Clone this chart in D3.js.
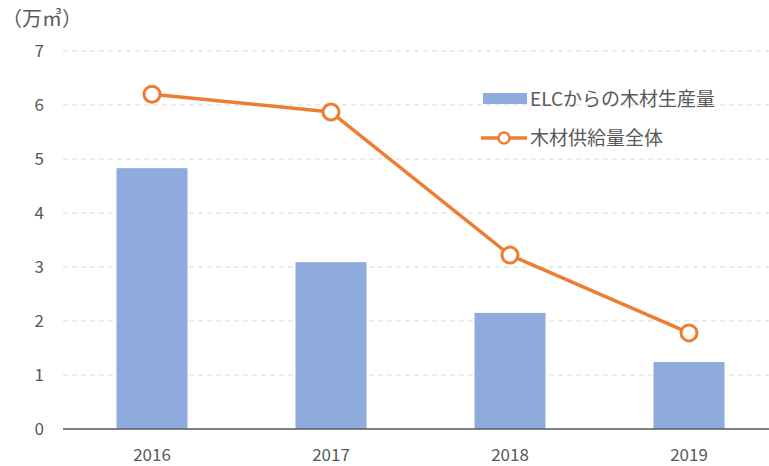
<!DOCTYPE html>
<html><head><meta charset="utf-8">
<script src="https://cdn.jsdelivr.net/npm/d3@7"></script>
<style>
body{margin:0;background:#fff;}
svg{display:block;font-family:"Noto Sans CJK JP","Noto Sans",sans-serif;}
</style></head>
<body>
<svg id="c" width="769" height="466"></svg>
<script>
const categories = ["2016","2017","2018","2019"];
const elcProduction = [4.83, 3.09, 2.15, 1.24];
const totalSupply = [6.20, 5.87, 3.22, 1.78];
const yTicks = [0,1,2,3,4,5,6,7];
const seriesNames = ["ELCからの木材生産量","木材供給量全体"];
const unitLabel = "（万㎥）";

const svg = d3.select("#c");
const xc = d3.scalePoint().domain(categories).range([152, 689]);
const y = d3.scaleLinear().domain([0,7]).range([429, 51]);

// gridlines
svg.append("g").selectAll("line").data(yTicks.filter(d=>d>0)).join("line")
  .attr("x1",63).attr("x2",769).attr("y1",d=>y(d)).attr("y2",d=>y(d))
  .attr("stroke","#d9d9d9").attr("stroke-width",1).attr("stroke-dasharray","5,4");

// y tick labels
svg.append("g").selectAll("text").data(yTicks).join("text")
  .attr("x",44).attr("y",d=>y(d)).attr("dy","0.35em").attr("text-anchor","end")
  .attr("font-size",17).attr("fill","#595959").text(d=>d);

// bars
const bw = 71;
svg.append("g").selectAll("rect").data(categories).join("rect")
  .attr("x",(d)=>xc(d)-bw/2).attr("width",bw)
  .attr("y",(d,i)=>y(elcProduction[i])).attr("height",(d,i)=>y(0)-y(elcProduction[i]))
  .attr("fill","#8FAADC");

// x axis line
svg.append("line").attr("x1",63).attr("x2",769).attr("y1",y(0)).attr("y2",y(0))
  .attr("stroke","#595959").attr("stroke-width",1.5);

// x labels
svg.append("g").selectAll("text").data(categories).join("text")
  .attr("x",d=>xc(d)).attr("y",455).attr("dy","0.35em").attr("text-anchor","middle")
  .attr("font-size",17).attr("fill","#595959").text(d=>d);

// line
const line = d3.line().x((d,i)=>xc(categories[i])).y(d=>y(d));
svg.append("path").datum(totalSupply).attr("d",line).attr("fill","none")
  .attr("stroke","#ED7D31").attr("stroke-width",3.5).attr("stroke-linejoin","round");
svg.append("g").selectAll("circle").data(totalSupply).join("circle")
  .attr("cx",(d,i)=>xc(categories[i])).attr("cy",d=>y(d)).attr("r",8)
  .attr("fill","#fff").attr("stroke","#ED7D31").attr("stroke-width",3);

// unit label
svg.append("text").attr("x",2).attr("y",19).attr("dy","0.35em").attr("font-size",20).attr("fill","#595959").text(unitLabel);

// legend
const lg = svg.append("g");
lg.append("rect").attr("x",483).attr("y",93).attr("width",44).attr("height",11).attr("fill","#8FAADC");
lg.append("text").attr("x",530).attr("y",99).attr("dy","0.35em").attr("font-size",19).attr("fill","#595959").text(seriesNames[0]);
lg.append("line").attr("x1",481).attr("x2",527).attr("y1",138).attr("y2",138).attr("stroke","#ED7D31").attr("stroke-width",3.5);
lg.append("circle").attr("cx",504).attr("cy",138).attr("r",5.5).attr("fill","#fff").attr("stroke","#ED7D31").attr("stroke-width",2.5);
lg.append("text").attr("x",530).attr("y",138).attr("dy","0.35em").attr("font-size",19).attr("fill","#595959").text(seriesNames[1]);
</script>
</body></html>
